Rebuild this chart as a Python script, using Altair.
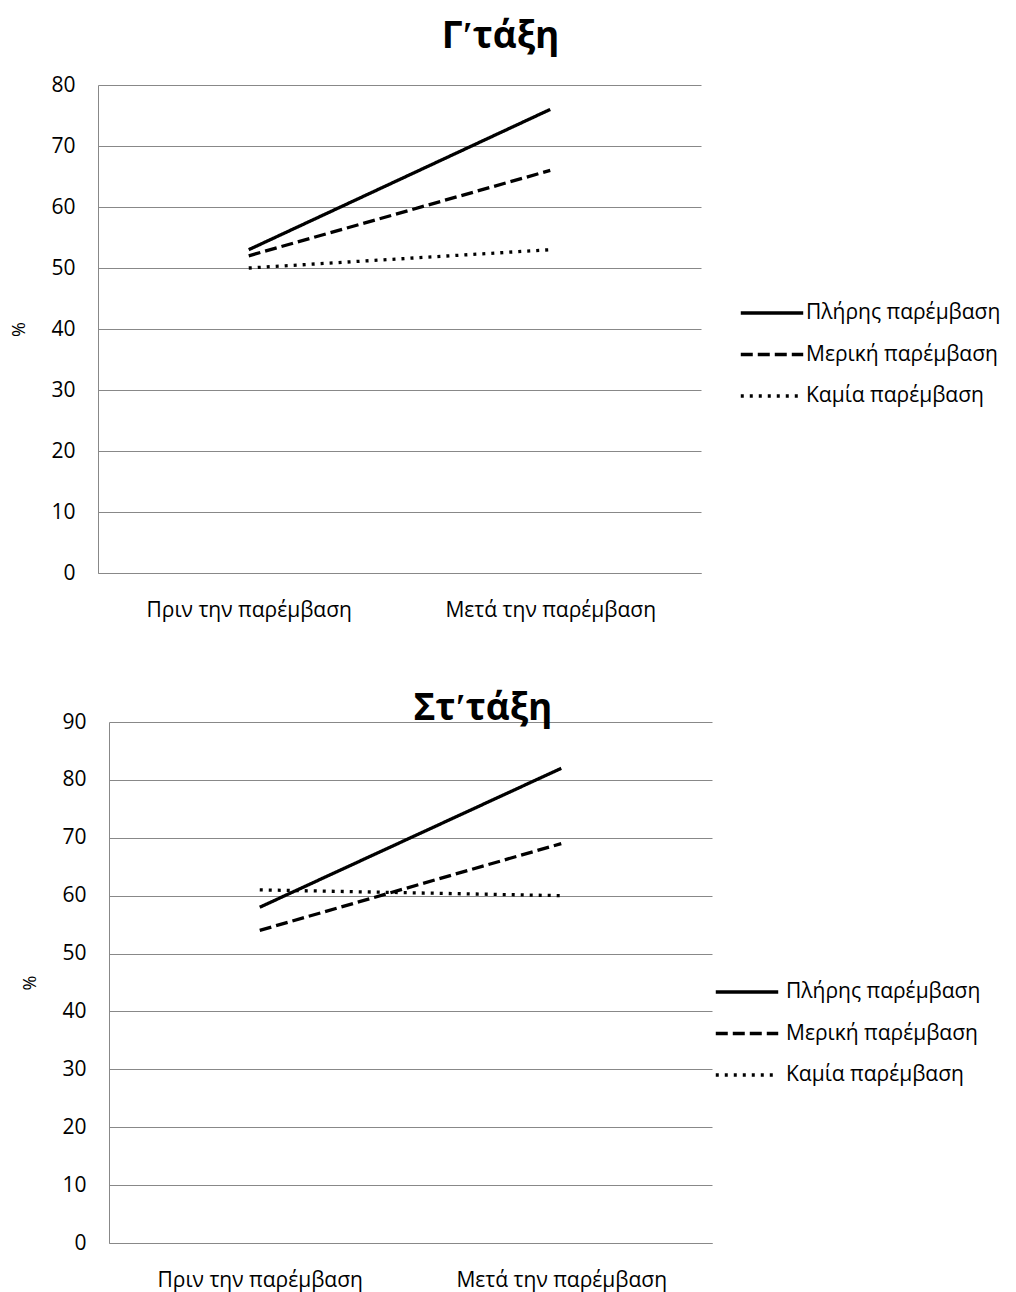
import altair as alt
import pandas as pd

# Categories and series
periods = ["Πριν την παρέμβαση", "Μετά την παρέμβαση"]
groups = ["Πλήρης παρέμβαση", "Μερική παρέμβαση", "Καμία παρέμβαση"]
group_dashes = [[1, 0], [12, 5], [3, 6]]

# Γʹ τάξη (%)
grade3_full = [53, 76]
grade3_partial = [52, 66]
grade3_none = [50, 53]

# Στʹ τάξη (%)
grade6_full = [58, 82]
grade6_partial = [54, 69]
grade6_none = [61, 60]

FONT = "Open Sans"
GRID = "#888888"


def to_frame(full, partial, none):
    rows = []
    for g, vals in zip(groups, [full, partial, none]):
        for p, v in zip(periods, vals):
            rows.append({"period": p, "group": g, "value": v})
    return pd.DataFrame(rows)


def panel(df, title, ymax, width, height, title_dx, title_offset,
          legend_x, legend_y, label_offset, inset=0):
    x_scale = alt.Scale(range=[inset, width]) if inset else alt.Undefined
    lines = alt.Chart(df).mark_line(color="black", strokeWidth=3.3, strokeCap="butt").encode(
        x=alt.X(
            "period:N",
            sort=periods,
            title=None,
            scale=x_scale,
            axis=alt.Axis(
                labelAngle=0, labelFont=FONT, labelFontSize=21, labelColor="black",
                labelPadding=26, labelLimit=0, ticks=False, domainColor=GRID,
                domainWidth=1, grid=False,
            ),
        ),
        y=alt.Y(
            "value:Q",
            title="%",
            scale=alt.Scale(domain=[0, ymax], nice=False),
            axis=alt.Axis(
                values=list(range(0, ymax + 1, 10)), labelFont=FONT, labelFontSize=21,
                labelColor="black", labelPadding=23, ticks=False, domainColor=GRID,
                domainWidth=1, gridColor=GRID, gridWidth=1, titleFont=FONT,
                titleFontSize=18, titleFontWeight="normal", titleColor="black",
                titlePadding=22, offset=-inset,
            ),
        ),
        strokeDash=alt.StrokeDash(
            "group:N",
            sort=groups,
            scale=alt.Scale(domain=groups, range=group_dashes),
            legend=alt.Legend(
                title=None, orient="none", legendX=legend_x, legendY=legend_y,
                symbolType="stroke", symbolSize=3900, symbolStrokeWidth=3.3,
                symbolStrokeColor="black", labelFont=FONT, labelFontSize=21,
                labelColor="black", labelLimit=0, clipHeight=30, rowPadding=11.5,
                labelOffset=label_offset,
            ),
        ),
    )
    return lines.properties(
        width=width,
        height=height,
        view=alt.ViewBackground(strokeWidth=0, strokeOpacity=0),
        title=alt.TitleParams(
            title, font=FONT, fontSize=37, fontWeight="bold", color="black",
            anchor="middle", dx=title_dx, offset=title_offset,
        ),
    )


top = panel(to_frame(grade3_full, grade3_partial, grade3_none), "Γʹτάξη", 80, 603, 488,
            101, 18, 641, 213, 1)
bottom = panel(to_frame(grade6_full, grade6_partial, grade6_none), "Στʹτάξη", 90, 614, 521,
               78, -17, 616, 255, 6, inset=11)

chart = (
    alt.vconcat(top, bottom, spacing=70)
    .resolve_scale(strokeDash="independent")
    .resolve_legend(strokeDash="independent")
    .properties(padding={"left": 10, "top": 18, "right": 0, "bottom": 6})
    .configure_view(stroke="transparent", strokeWidth=0)
    .configure(background="white")
)

chart.save("out.html", embed_options={"renderer": "svg", "actions": False})
